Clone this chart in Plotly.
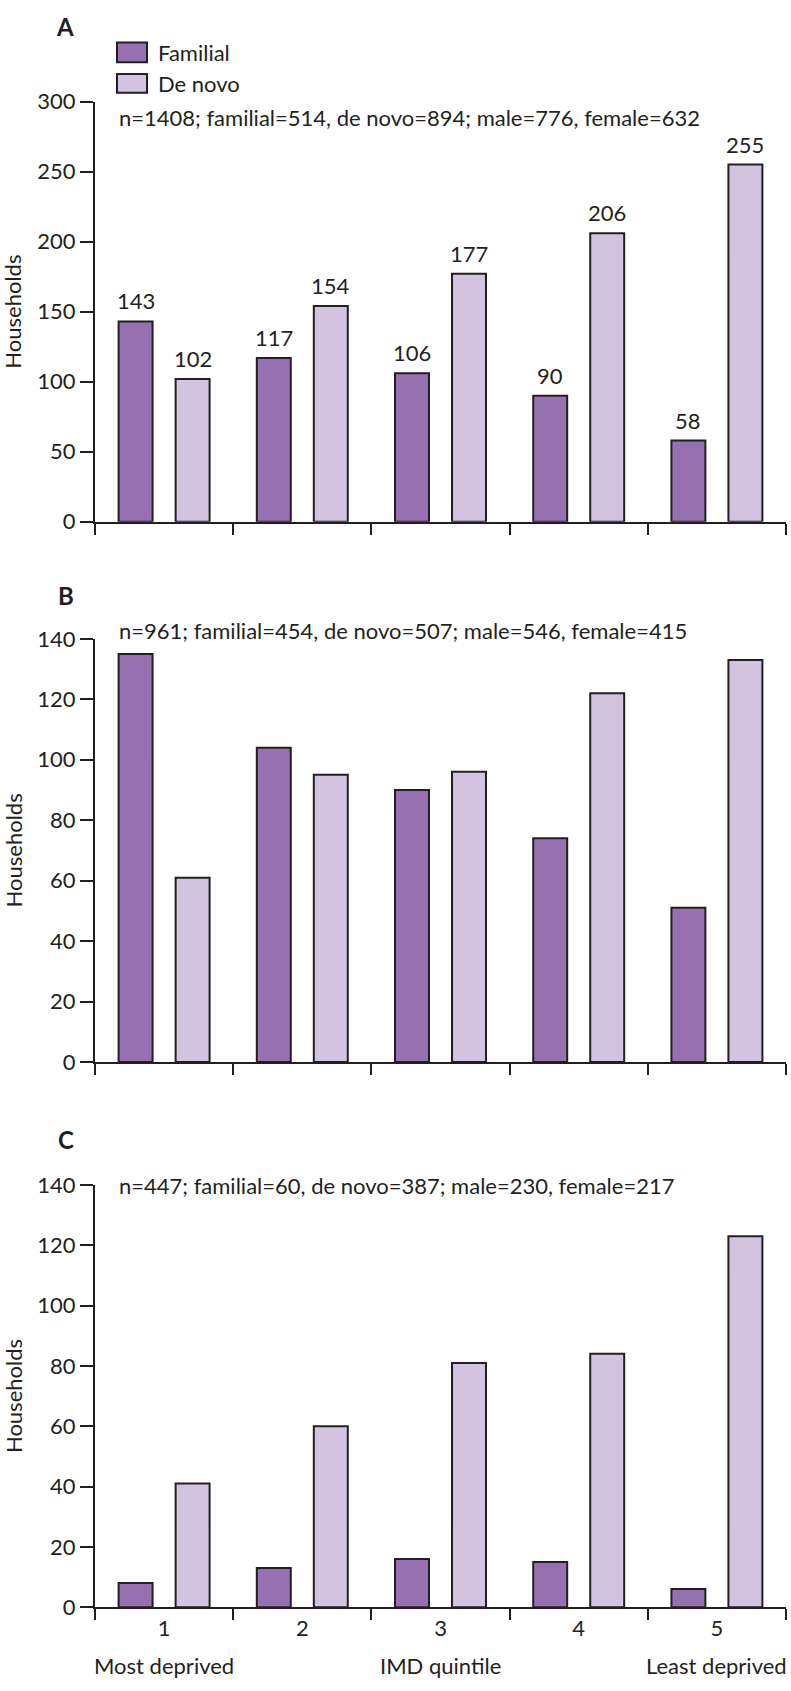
import plotly.graph_objects as go

# ---------------- data ----------------
quintiles = ["1", "2", "3", "4", "5"]
quintile_notes = ["Most deprived", "IMD quintile", "Least deprived"]
note_positions = [0, 2, 4]

a_familial = [143, 117, 106, 90, 58]
a_denovo = [102, 154, 177, 206, 255]
b_familial = [135, 104, 90, 74, 51]
b_denovo = [61, 95, 96, 122, 133]
c_familial = [8, 13, 16, 15, 6]
c_denovo = [41, 60, 81, 84, 123]

panel_letters = ["A", "B", "C"]
panel_notes = [
    "n=1408; familial=514, de novo=894; male=776, female=632",
    "n=961; familial=454, de novo=507; male=546, female=415",
    "n=447; familial=60, de novo=387; male=230, female=217",
]
y_max = [300, 140, 140]
y_dtick = [50, 20, 20]
series_names = ["Familial", "De novo"]

# ---------------- style ----------------
W, H = 791, 1691
DARK = "#231f20"
C_FAM = "#9670b0"
C_DEN = "#d2c4e0"
FONT = "Lato"
FS = 22
BARGAP = 0.175
BARGROUPGAP = 0.404

x_left, x_right = 95, 786
# (top px, bottom px) of each panel's plotting area
panel_px = [(89, 516), (635, 1065), (1190, 1619)]
letter_y = [13, 591, 1144]
note_y = [105, 627, 1191]


def py(px):
    return 1 - px / H


def pxx(px):
    return px / W


fig = go.Figure()
data = [(a_familial, a_denovo), (b_familial, b_denovo), (c_familial, c_denovo)]
annotations = []
shapes = []

for i, (fam, den) in enumerate(data):
    xa = "x" if i == 0 else f"x{i+1}"
    ya = "y" if i == 0 else f"y{i+1}"
    for vals, col, name in [(fam, C_FAM, series_names[0]), (den, C_DEN, series_names[1])]:
        fig.add_trace(go.Bar(
            x=quintiles, y=vals, name=name, xaxis=xa, yaxis=ya,
            marker=dict(color=col, line=dict(color=DARK, width=2)),
            showlegend=False, hoverinfo="x+y+name",
        ))
    top, bot = panel_px[i]
    axis_common = dict(showgrid=False, zeroline=False, showline=True,
                       linecolor=DARK, linewidth=2, ticks="outside",
                       tickcolor=DARK, tickwidth=2,
                       tickfont=dict(family=FONT, size=FS, color=DARK))
    fig.layout[f"xaxis{'' if i == 0 else i+1}"] = dict(
        axis_common, domain=[pxx(x_left), pxx(x_right)], anchor=ya,
        type="category", categoryorder="array", categoryarray=quintiles,
        tickson="boundaries", ticklen=11, range=[-0.5, 4.5],
        showticklabels=(i == 2), fixedrange=True,
    )
    fig.layout[f"yaxis{'' if i == 0 else i+1}"] = dict(
        axis_common, domain=[py(bot), py(top)], anchor=xa,
        range=[0, y_max[i]], dtick=y_dtick[i], tick0=0, ticklen=13,
        fixedrange=True,
    )
    # panel letter
    annotations.append(dict(
        text=f"<b>{panel_letters[i]}</b>", xref="paper", yref="paper",
        x=pxx(76), y=py(letter_y[i]), xanchor="right", yanchor="middle",
        showarrow=False, font=dict(family=FONT, size=24, color=DARK)))
    # sample note
    annotations.append(dict(
        text=panel_notes[i], xref="paper", yref="paper",
        x=pxx(117), y=py(note_y[i]), xanchor="left", yanchor="middle",
        showarrow=False, font=dict(family=FONT, size=FS, color=DARK)))
    # y title
    annotations.append(dict(
        text="Households", xref="paper", yref="paper", textangle=-90,
        x=pxx(13), y=py((top + bot) / 2), xanchor="center", yanchor="middle",
        showarrow=False, font=dict(family=FONT, size=FS, color=DARK)))

# value labels on panel A
off = (1 - BARGAP) / 4
for k in range(len(quintiles)):
    for vals, sgn in [(a_familial, -1), (a_denovo, 1)]:
        annotations.append(dict(
            text=str(vals[k]), xref="x", yref="y", x=k + sgn * off, y=vals[k],
            xanchor="center", yanchor="bottom", yshift=5, showarrow=False,
            font=dict(family=FONT, size=FS, color=DARK)))

# bottom notes under quintile labels
for pos, txt in zip(note_positions, quintile_notes):
    last = pos == note_positions[-1]
    annotations.append(dict(
        text=txt, xref="paper" if last else "x3", yref="paper",
        x=pxx(789) if last else pos, y=py(1678),
        xanchor="right" if last else "center", yanchor="middle", showarrow=False,
        font=dict(family=FONT, size=FS, color=DARK)))

# legend (drawn manually for box size)
for (y0, y1), col, name in [((29, 49), C_FAM, series_names[0]),
                            ((61, 80), C_DEN, series_names[1])]:
    shapes.append(dict(type="rect", xref="paper", yref="paper",
                       x0=pxx(117), x1=pxx(147), y0=py(y1), y1=py(y0),
                       fillcolor=col, line=dict(color=DARK, width=2)))
    annotations.append(dict(
        text=name, xref="paper", yref="paper", x=pxx(156), y=py((y0 + y1) / 2),
        xanchor="left", yanchor="middle", showarrow=False,
        font=dict(family=FONT, size=FS, color=DARK)))

fig.update_layout(
    width=W, height=H, margin=dict(l=0, r=0, t=0, b=0),
    paper_bgcolor="white", plot_bgcolor="white",
    barmode="group", bargap=BARGAP, bargroupgap=BARGROUPGAP,
    showlegend=False, annotations=annotations, shapes=shapes,
    font=dict(family=FONT, size=FS, color=DARK),
)

fig.write_html("out.html",
               config={"displayModeBar": False},
               post_script="document.body.style.margin='0';"
                           "document.body.style.padding='0';")
